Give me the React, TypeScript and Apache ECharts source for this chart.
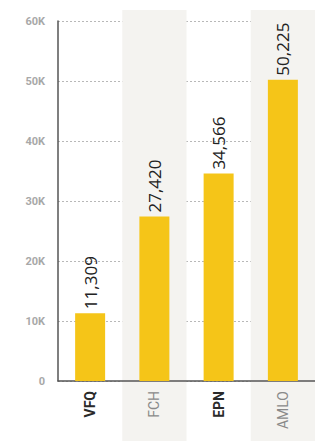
import React, { useEffect, useRef } from "react";
import * as echarts from "echarts";

const categories = ["VFQ", "FCH", "EPN", "AMLO"];
const values = [11309, 27420, 34566, 50225];
const emphasized = ["VFQ", "EPN"];
const yTicks = [0, 10000, 20000, 30000, 40000, 50000, 60000];

const narrow = "'Liberation Sans Narrow', 'Roboto', sans-serif";

export default function App() {
  const ref = useRef<HTMLDivElement>(null);
  useEffect(() => {
    if (!ref.current) return;
    const chart = echarts.init(ref.current, undefined, { renderer: "svg" });
    const left = 58;
    const right = -11;
    chart.setOption({
      animation: false,
      backgroundColor: "#ffffff",
      grid: [
        { left, right, top: 21, bottom: 60, containLabel: false },
        { left, right, top: 10, bottom: 0, containLabel: false },
      ],
      xAxis: [
        {
          type: "category",
          gridIndex: 0,
          data: categories,
          axisLine: { show: true, lineStyle: { color: "#555", width: 1.5 } },
          axisTick: { show: false },
          axisLabel: {
            rotate: 90,
            margin: 10,
            formatter: (v: string) => (emphasized.includes(v) ? `{b|${v}}` : `{n|${v}}`),
            rich: {
              b: { fontFamily: narrow, fontSize: 14, fontWeight: "bold", color: "#2a2a2a" },
              n: { fontFamily: narrow, fontSize: 14, color: "#8a8a8a" },
            },
          },
          splitLine: { show: false },
          splitArea: { show: false },
        },
        {
          type: "category",
          gridIndex: 1,
          data: categories,
          axisLine: { show: false },
          axisTick: { show: false },
          axisLabel: { show: false },
          splitArea: { show: true, areaStyle: { color: ["rgba(255,255,255,0)", "#f4f3f0"] } },
        },
      ],
      yAxis: [
        {
          type: "value",
          gridIndex: 0,
          min: 0,
          max: 60000,
          interval: 10000,
          axisLine: { show: true, lineStyle: { color: "#555", width: 1.5 } },
          axisTick: { show: false },
          axisLabel: {
            margin: 13,
            fontFamily: narrow,
            fontWeight: "bold",
            fontSize: 11,
            color: "#a8a8a8",
            formatter: (v: number) => (yTicks.includes(v) ? (v === 0 ? "0" : v / 1000 + "K") : ""),
          },
          splitLine: { show: true, lineStyle: { color: "#b8b8b8", type: [2, 2], width: 1 } },
        },
        {
          type: "value",
          gridIndex: 1,
          show: false,
          splitLine: { show: false },
        },
      ],
      series: [
        {
          type: "bar",
          xAxisIndex: 0,
          yAxisIndex: 0,
          data: values,
          barWidth: 30,
          z: 3,
          itemStyle: { color: "#F5C518" },
          label: {
            show: true,
            position: "top",
            rotate: 90,
            align: "left",
            verticalAlign: "middle",
            distance: 4,
            fontFamily: "Open Sans",
            fontSize: 17,
            color: "#222",
            formatter: (p: any) => Number(p.value).toLocaleString("en-US"),
          },
        },
      ],
    });
    return () => chart.dispose();
  }, []);
  return (
    <div
      ref={ref}
      style={{ position: "fixed", left: 0, top: 0, width: 315, height: 441 }}
    />
  );
}
